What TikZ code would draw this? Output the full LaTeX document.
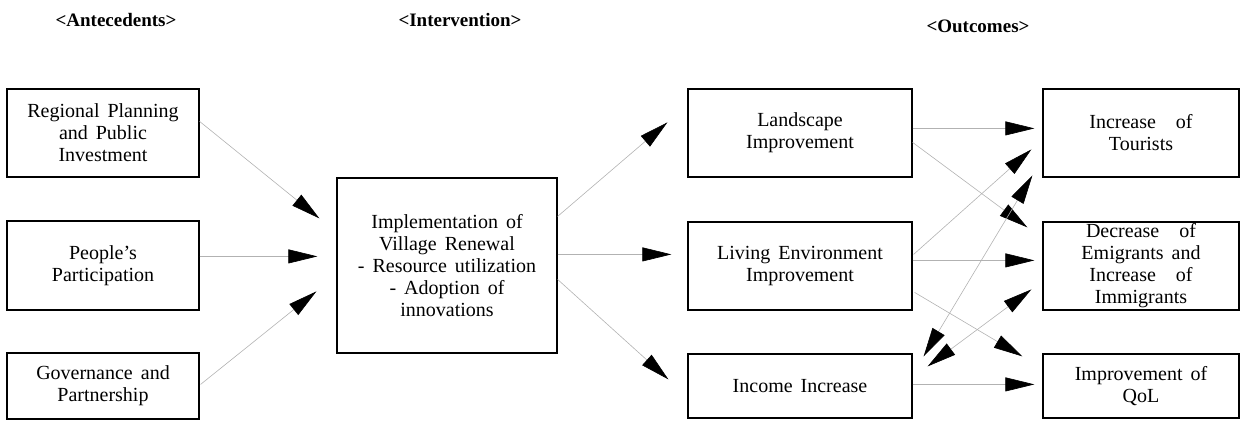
\documentclass[tikz,border=0pt]{standalone}
\usepackage{fontspec}
\setmainfont{Liberation Serif}[WordSpace=1.6]
\usetikzlibrary{arrows.meta,calc}
\begin{document}
\begin{tikzpicture}[x=1pt,y=-1pt,
  box/.style={draw=black, line width=1.2pt, rectangle, inner sep=0pt, align=center,
    font=\fontsize{20}{22}\selectfont},
  head/.style={font=\fontsize{19}{22}\selectfont\bfseries, inner sep=0pt},
  conn/.style={draw=black!30, line width=0.6pt, -{Triangle[length=29pt,width=14pt,color=black]}},
  bconn/.style={draw=black!30, line width=0.6pt, {Triangle[length=29pt,width=14pt,color=black]}-{Triangle[length=29pt,width=14pt,color=black]}}
]
\useasboundingbox (0,0) rectangle (1240,421);
% headers
\node[head] (hA) at (116,20) {<Antecedents>};
\node[head] (hI) at (460,20) {<Intervention>};
\node[head] (hO) at (978,26) {<Outcomes>};
% left column
\node[box, minimum width=192pt, minimum height=88pt] (reg) at (103,133) {Regional Planning\\and Public\\Investment};
\node[box, minimum width=192pt, minimum height=89pt] (peo) at (103,265.5) {People’s\\Participation};
\node[box, minimum width=192pt, minimum height=66pt] (gov) at (103,386) {Governance and\\Partnership};
% middle
\node[box, minimum width=220pt, minimum height=175pt] (imp) at (447,265.5) {Implementation of\\Village Renewal\\- Resource utilization\\- Adoption of\\innovations};
% outcomes column 1
\node[box, minimum width=224pt, minimum height=88pt] (lan) at (800,133) {Landscape\\Improvement};
\node[box, minimum width=224pt, minimum height=88pt] (liv) at (800,266) {Living Environment\\Improvement};
\node[box, minimum width=224pt, minimum height=64pt] (inc) at (800,386) {Income Increase};
% outcomes column 2
\node[box, minimum width=196pt, minimum height=88pt] (tou) at (1141,133) {Increase\hspace{20pt}of\\Tourists};
\node[box, minimum width=196pt, minimum height=88pt] (dec) at (1141,266) {Decrease\hspace{20pt}of\\Emigrants and\\Increase\hspace{20pt}of\\Immigrants};
\node[box, minimum width=196pt, minimum height=64pt] (qol) at (1141,386) {Improvement of\\QoL};
% connectors
\draw[conn] ($(reg.north east)+(0,33)$) -- ($(imp.north west)+(-17,41)$);
\draw[conn] ($(peo.north east)+(0,36)$) -- ($(imp.north west)+(-19,79)$);
\draw[conn] ($(gov.north east)+(1,32)$) -- ($(imp.north west)+(-20,114)$);
\draw[conn] ($(imp.north east)+(0,39)$) -- ($(lan.north west)+(-20,34)$);
\draw[conn] ($(imp.north east)+(0,77)$) -- ($(liv.north west)+(-16,33)$);
\draw[conn] ($(imp.north east)+(0,102)$) -- ($(inc.north west)+(-19,26)$);
\draw[conn] ($(lan.north east)+(0,40)$) -- ($(tou.north west)+(-8,40)$);
\draw[conn] ($(lan.north east)+(0,54)$) -- ($(dec.north west)+(-15,6)$);
\draw[conn] ($(liv.north east)+(1,33)$) -- ($(tou.north west)+(-11,61)$);
\draw[conn] ($(liv.north east)+(0,39)$) -- ($(dec.north west)+(-8,39)$);
\draw[conn] ($(liv.north east)+(2,71)$) -- ($(qol.north west)+(-20,3)$);
\draw[bconn] ($(inc.north east)+(11,3)$) -- ($(tou.north west)+(-10,87)$);
\draw[bconn] ($(inc.north east)+(15,13)$) -- ($(dec.north west)+(-11,68)$);
\draw[conn] ($(inc.north east)+(0,31)$) -- ($(qol.north west)+(-8,31)$);
\end{tikzpicture}
\end{document}
